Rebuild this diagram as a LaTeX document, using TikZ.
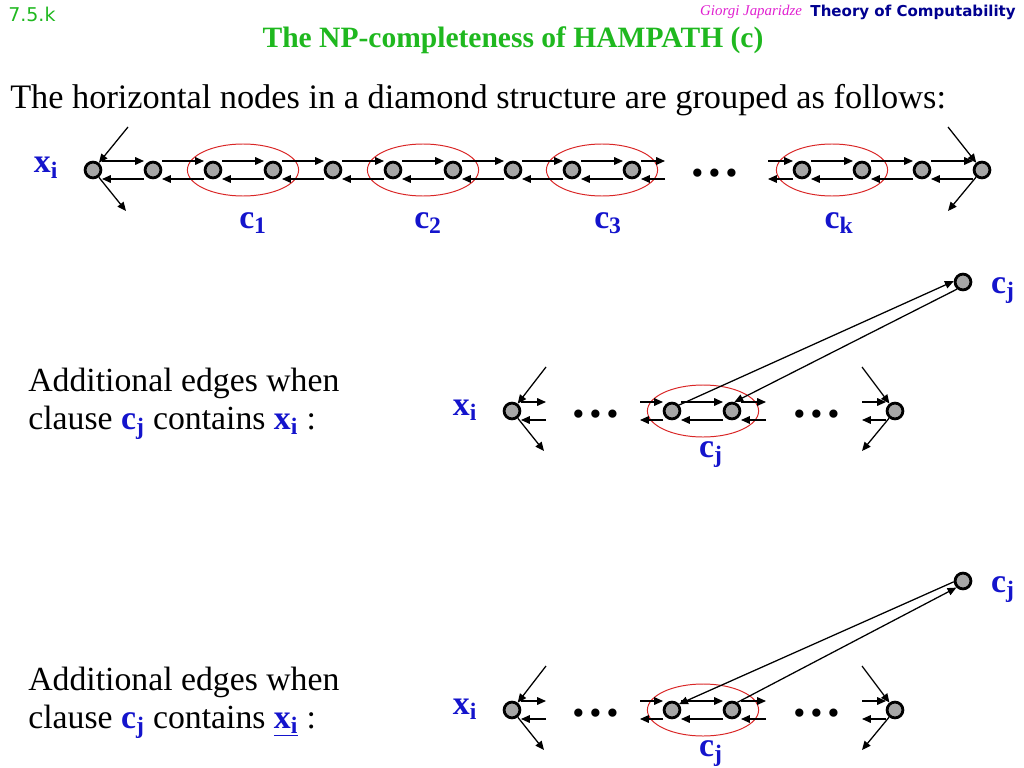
\documentclass[tikz,border=0pt]{standalone}
\usepackage{fontspec}
\setmainfont{Liberation Serif}
\newfontfamily\headfont{DejaVu Sans}
\usetikzlibrary{arrows.meta,positioning,shapes.geometric}
\definecolor{labelblue}{HTML}{1414CC}
\definecolor{titlegreen}{HTML}{1FB81F}
\definecolor{ovalred}{HTML}{D92626}
\definecolor{authorpink}{HTML}{E020D0}
\definecolor{coursenavy}{HTML}{000090}
\definecolor{nodegray}{HTML}{A6A6A6}

\newcommand{\cl}[1]{c\textsubscript{#1}}
\newcommand{\xv}{x\textsubscript{i}}
% a pair of opposite edges between #1 and #3, offsets #2 and #4
\newcommand{\pairedge}[4]{%
  \draw[edge] ([shift={(#2,-9)}]#1.center) -- ([shift={(-#4,-9)}]#3.center);
  \draw[edge] ([shift={(-#4,9)}]#3.center) -- ([shift={(#2,9)}]#1.center);}

\begin{document}
\begin{tikzpicture}[x=0.025cm, y=-0.025cm,
        vertex/.style={circle, draw=black, line width=2pt, fill=nodegray, minimum size=3.95mm, inner sep=0pt},
        clause/.style={ellipse, draw=ovalred, line width=0.7pt, minimum width=2.78cm, minimum height=1.3cm, inner sep=0pt},
        edge/.style={draw=black, line width=0.9pt, -{Triangle[length=2.2mm, width=1.9mm]}},
        varlabel/.style={text=labelblue, font=\fontsize{24}{24}\selectfont\bfseries, inner sep=0pt, anchor=base},
        bodytext/.style={font=\fontsize{24}{24}\selectfont, inner sep=0pt, anchor=base west},
        dots/.style={font=\fontsize{36}{36}\selectfont\bfseries, inner sep=0pt, anchor=base}
    ]
        \useasboundingbox (0,0) rectangle (1024,768);

        % header
        \node[font=\headfont\fontsize{13.5}{13.5}\selectfont, text=titlegreen, anchor=west, inner sep=0pt] (slideno) at (8,14) {7.5.k};
        \node[font=\headfont\fontsize{10.7}{10.7}\selectfont\bfseries, text=coursenavy, anchor=east, inner sep=0pt] (course) at (1016,12) {Theory of Computability};
        \node[font=\fontsize{10.6}{10.6}\selectfont\itshape, text=authorpink, inner sep=0pt, left=2mm of course] (author) {Giorgi Japaridze};
        \node[font=\fontsize{21}{21}\selectfont\bfseries, text=titlegreen, inner sep=0pt] (title) at (513,40) {The NP-completeness of HAMPATH (c)};
        \node[bodytext, font=\fontsize{24.4}{24.4}\selectfont] (intro) at (10,109) {The horizontal nodes in a diamond structure are grouped as follows:};

        % diamond row
        \foreach \k/\x in {1/243,2/423,3/602,k/832}
            \node[clause] (group\k) at (\x,170) {};
        \foreach \i/\x in {1/93,2/153,3/213,4/273,5/333,6/393,7/453,8/513,9/572,10/632,11/802,12/862,13/922,14/982}
            \node[vertex] (n\i) at (\x,170) {};
        \foreach \i in {1,...,9,11,12,13} {
            \pgfmathtruncatemacro{\j}{\i+1}
            \pairedge{n\i}{9}{n\j}{9}
        }
        \coordinate (stubA) at (665,170);
        \coordinate (stubB) at (768,170);
        \pairedge{n10}{9}{stubA}{0}
        \pairedge{stubB}{0}{n11}{9}
        \coordinate (inleft) at (128,127);
        \coordinate (outleft) at (126,211);
        \coordinate (inright) at (948,127);
        \coordinate (outright) at (948,211);
        \draw[edge] (inleft) -- (n1);
        \draw[edge] (n1) -- (outleft);
        \draw[edge] (inright) -- (n14);
        \draw[edge] (n14) -- (outright);
        \node[varlabel] (xtop) at (46,173) {\xv};
        \node[dots] (dotstop) at (715,177) {…};
        \node[varlabel] (labone) at (253,228) {\cl{1}};
        \node[varlabel] (labtwo) at (428,228) {\cl{2}};
        \node[varlabel] (labthree) at (608,228) {\cl{3}};
        \node[varlabel] (labk) at (839,228) {\cl{k}};

        % two cases
        \foreach \case/\y in {pos/411, neg/710} {
            \node[clause] (oval\case) at (703,\y) {};
            \node[vertex] (a\case) at (512,\y) {};
            \node[vertex] (b\case) at (672,\y) {};
            \node[vertex] (c\case) at (732,\y) {};
            \node[vertex] (d\case) at (895,\y) {};
            \node[vertex] (cj\case) at (963,\y-129) {};
            \coordinate (sa\case) at (546,\y);
            \coordinate (sb\case) at (640,\y);
            \coordinate (sc\case) at (766,\y);
            \coordinate (sd\case) at (862,\y);
            \pairedge{a\case}{9}{sa\case}{0}
            \pairedge{sb\case}{0}{b\case}{9}
            \pairedge{b\case}{9}{c\case}{9}
            \pairedge{c\case}{9}{sc\case}{0}
            \pairedge{sd\case}{0}{d\case}{9}
            \coordinate (ina\case) at (546,\y-44);
            \coordinate (outa\case) at (544,\y+40);
            \coordinate (ind\case) at (862,\y-44);
            \coordinate (outd\case) at (862,\y+40);
            \draw[edge] (ina\case) -- (a\case);
            \draw[edge] (a\case) -- (outa\case);
            \draw[edge] (ind\case) -- (d\case);
            \draw[edge] (d\case) -- (outd\case);
            \node[varlabel] (x\case) at (465,\y+4) {\xv};
            \node[dots] at (596,\y+6) {…};
            \node[dots] at (817,\y+6) {…};
            \node[varlabel] (cjl\case) at (711,\y+46) {\cl{j}};
            \node[varlabel] (cjn\case) at (1003,\y-118) {\cl{j}};
        }
        \draw[edge] (bpos.40) -- (cjpos.175);
        \draw[edge] (cjpos.230) -- (cpos.75);
        \draw[edge] (cjneg.185) -- (bneg.40);
        \draw[edge] (cneg.55) -- (cjneg.225);

        \node[bodytext] (posone) at (28,391) {Additional edges when};
        \node[bodytext] (postwo) at (28,429) {clause \textcolor{labelblue}{\bfseries\cl{j}} contains \textcolor{labelblue}{\bfseries\xv} :};
        \node[bodytext] (negone) at (28,690) {Additional edges when};
        \node[bodytext] (negtwo) at (28,728) {clause \textcolor{labelblue}{\bfseries\cl{j}} contains \textcolor{labelblue}{\bfseries\underline{\xv}} :};
    \end{tikzpicture}
\end{document}
